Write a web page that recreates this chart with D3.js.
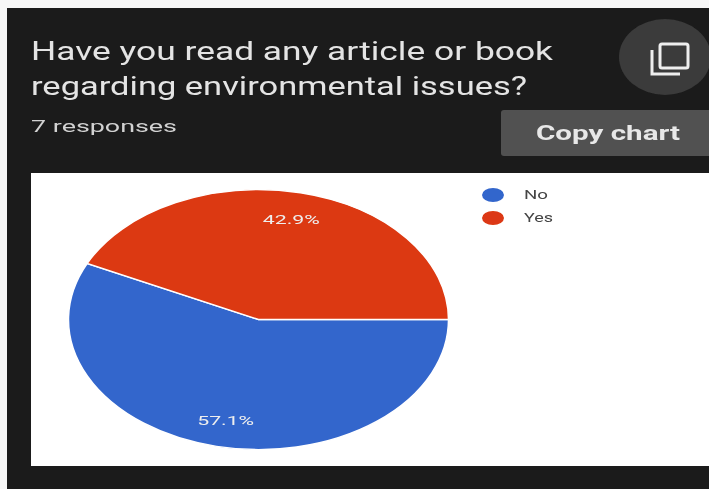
<!DOCTYPE html>
<html><head><meta charset="utf-8"><script src="https://cdn.jsdelivr.net/npm/d3@7"></script>
<style>html,body{margin:0;padding:0;background:#1c1c1c}svg{display:block}text{font-family:Roboto,sans-serif}</style></head>
<body><div id="c"></div><script>
const categories=["No","Yes"];
const values=[57.1,42.9];
const colors=["#3366cc","#dc3912"];
const W=709,H=489;
const svg=d3.select("#c").append("svg").attr("width",W).attr("height",H);
const defs=svg.append("defs");
defs.append("filter").attr("id","soft").append("feGaussianBlur").attr("stdDeviation",0.7);
svg.append("rect").attr("width",W).attr("height",H).attr("fill","#1b1b1b");
svg.append("rect").attr("x",0).attr("y",0).attr("width",W).attr("height",8).attr("fill","#f7f7f7");
svg.append("rect").attr("x",0).attr("y",0).attr("width",7).attr("height",H).attr("fill","#f7f7f7");
const soft=svg.append("g").attr("filter","url(#soft)");
function label(p,x,y,size,len,fill,s,w){
  return p.append("text").attr("x",x).attr("y",y).attr("font-size",size).attr("font-weight",w||400)
    .attr("fill",fill).attr("textLength",len).attr("lengthAdjust","spacingAndGlyphs").text(s);
}
label(soft,31,60,25,522,"#e4e4e4","Have you read any article or book");
label(soft,31,95,25,496,"#e4e4e4","regarding environmental issues?");
label(soft,31,132,17,146,"#d2d2d2","7 responses");
soft.append("ellipse").attr("cx",665).attr("cy",57).attr("rx",46).attr("ry",38).attr("fill","#3a3a3a");
const ic=soft.append("g").attr("fill","none").attr("stroke","#eeeeee").attr("stroke-width",3);
ic.append("rect").attr("x",660).attr("y",44).attr("width",28).attr("height",24).attr("rx",2);
ic.append("path").attr("d","M652 50V74H680");
soft.append("rect").attr("x",501).attr("y",110).attr("width",220).attr("height",46).attr("rx",3).attr("fill","#515151");
label(soft,536,140,21,144,"#e8e8e8","Copy chart",700);
svg.append("rect").attr("x",31).attr("y",173).attr("width",678).attr("height",293).attr("fill","#ffffff");
const pie=d3.pie().sort(null).startAngle(Math.PI/2).endAngle(Math.PI/2+2*Math.PI);
const arc=d3.arc().innerRadius(0).outerRadius(1);
const g=svg.append("g").attr("transform","translate(258.5,319.5) scale(190,130)");
const arcs=pie(values);
g.selectAll("path").data(arcs).join("path").attr("d",arc).attr("fill",(d,i)=>colors[i]).attr("stroke","#fff").attr("stroke-width",1.5).attr("vector-effect","non-scaling-stroke");
const soft2=svg.append("g").attr("filter","url(#soft)");
arcs.forEach(d=>{
  const a=(d.startAngle+d.endAngle)/2;
  label(soft2,258.5+190*0.78*Math.sin(a)-28.5,319.5-130*0.79*Math.cos(a)+5,13,57,"#eeeeee",d.value.toFixed(1)+"%");
});
const leg=soft2.append("g").selectAll("g").data(categories).join("g").attr("transform",(d,i)=>`translate(493,${195+i*23})`);
leg.append("ellipse").attr("rx",11).attr("ry",7).attr("fill",(d,i)=>colors[i]);
leg.append("text").attr("x",31).attr("y",4).attr("font-size",13).attr("fill","#444").attr("textLength",(d,i)=>[24,29][i]).attr("lengthAdjust","spacingAndGlyphs").text(d=>d);
</script></body></html>
